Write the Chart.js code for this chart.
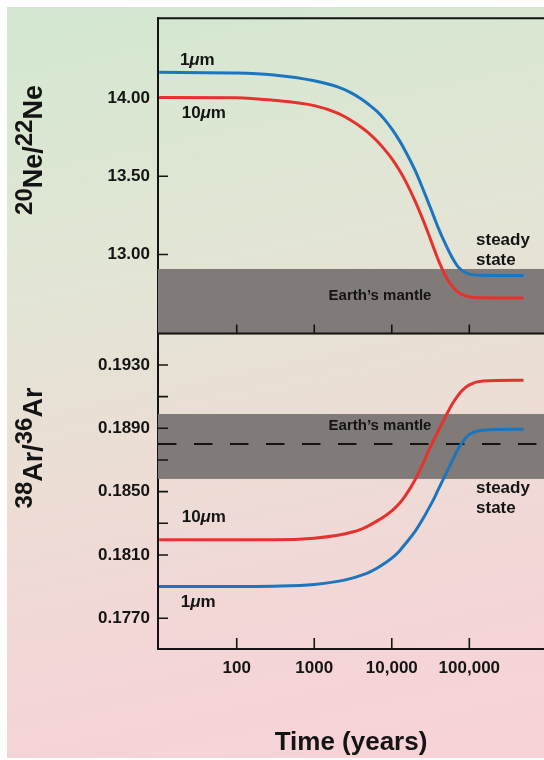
<!DOCTYPE html>
<html>
<head>
<meta charset="utf-8">
<script src="https://cdn.jsdelivr.net/npm/chart.js@4.4.1/dist/chart.umd.min.js"></script>
<style>
  html, body { margin: 0; padding: 0; background: #ffffff; }
  #wrap { position: relative; width: 544px; height: 760px; overflow: hidden; }
  #bg {
    position: absolute; left: 7px; top: 7px; right: 0; bottom: 2px;
    background: linear-gradient(168deg, #d3e8d0 0%, #e2e5d5 33%, #eddcd5 60%, #f4d5d7 82%, #f7d2d7 100%);
  }
  canvas { position: absolute; left: 0; top: 0; }
</style>
</head>
<body>
<div id="wrap">
  <div id="bg"></div>
  <canvas id="chart" width="544" height="760"></canvas>
</div>
<script>
// Time axis (years) shared by both panels
const years = [10, 100, 300, 1000, 2000, 3000, 4000, 5000, 6500, 8000, 10000, 12500, 15000, 20000, 25000, 30000, 35000, 40000, 50000, 60000, 70000, 80000, 100000, 150000, 500000];

// 20Ne/22Ne ratio for 1 um and 10 um grains
const ne1um  = [14.164, 14.160, 14.147, 14.110, 14.071, 14.033, 13.995, 13.960, 13.913, 13.865, 13.802, 13.729, 13.660, 13.537, 13.423, 13.325, 13.240, 13.167, 13.059, 12.980, 12.927, 12.898, 12.874, 12.867, 12.865];
const ne10um = [14.003, 14.002, 13.985, 13.951, 13.903, 13.856, 13.815, 13.777, 13.723, 13.673, 13.613, 13.540, 13.470, 13.341, 13.227, 13.126, 13.037, 12.962, 12.857, 12.797, 12.762, 12.745, 12.730, 12.723, 12.721];

// 38Ar/36Ar ratio for 1 um and 10 um grains
const ar1um  = [0.17900, 0.17900, 0.17903, 0.17914, 0.17933, 0.17952, 0.17971, 0.17989, 0.18018, 0.18046, 0.18080, 0.18124, 0.18171, 0.18249, 0.18325, 0.18394, 0.18456, 0.18516, 0.18613, 0.18694, 0.18760, 0.18807, 0.18861, 0.18888, 0.18894];
const ar10um = [0.18196, 0.18196, 0.18196, 0.18206, 0.18224, 0.18243, 0.18262, 0.18284, 0.18315, 0.18343, 0.18378, 0.18425, 0.18475, 0.18575, 0.18672, 0.18760, 0.18829, 0.18886, 0.18980, 0.19052, 0.19102, 0.19136, 0.19174, 0.19198, 0.19203];

// Earth's mantle ranges
const neMantleBand = [12.49, 12.907];
const arMantleBand = [0.1858, 0.1899];
const arMantleMean = 0.1880;

// Tick values and labels
const xTickValues = [100, 1000, 10000, 100000];
const xTickLabels = ['100', '1000', '10,000', '100,000'];
const neTickValues = [12.5, 13.0, 13.5, 14.0, 14.5];
const neTickLabels = ['', '13.00', '13.50', '14.00', ''];
const arTickValues = [0.175, 0.177, 0.179, 0.181, 0.183, 0.185, 0.187, 0.189, 0.191, 0.193, 0.195];
const arTickLabels = ['', '0.1770', '', '0.1810', '', '0.1850', '', '0.1890', '', '0.1930', ''];

const FONT = '"Liberation Sans", Arial, Helvetica, sans-serif';
const INK = '#141414';
const RED = '#e5322e';
const BLUE = '#1c75bf';
const BAND = '#807b78';

function bold(size) { return 'bold ' + size + 'px ' + FONT; }
function boldItalic(size) { return 'italic bold ' + size + 'px ' + FONT; }

function micron(num) {
  return [{ t: num, font: bold(17) }, { t: '\u03bc', font: boldItalic(17) }, { t: 'm', font: bold(17) }];
}

// Text notes placed in data coordinates of each panel
const notes = [
  { axis: 'yNe', x: 18.5, y: 14.239, runs: micron('1'), align: 'left' },
  { axis: 'yNe', x: 19.5, y: 13.905, runs: micron('10'), align: 'left' },
  { axis: 'yNe', x: 122000, y: 13.093, runs: [{ t: 'steady', font: bold(17) }], align: 'left' },
  { axis: 'yNe', x: 122000, y: 12.962, runs: [{ t: 'state', font: bold(17) }], align: 'left' },
  { axis: 'yNe', x: 7050, y: 12.738, runs: [{ t: 'Earth\u2019s mantle', font: bold(15) }], align: 'center' },
  { axis: 'yAr', x: 7050, y: 0.18915, runs: [{ t: 'Earth\u2019s mantle', font: bold(15) }], align: 'center' },
  { axis: 'yAr', x: 122000, y: 0.18524, runs: [{ t: 'steady', font: bold(17) }], align: 'left' },
  { axis: 'yAr', x: 122000, y: 0.18395, runs: [{ t: 'state', font: bold(17) }], align: 'left' },
  { axis: 'yAr', x: 19.5, y: 0.18336, runs: micron('10'), align: 'left' },
  { axis: 'yAr', x: 19.0, y: 0.17803, runs: micron('1'), align: 'left' }
];

function drawRuns(ctx, runs, x, y, align) {
  let total = 0;
  runs.forEach(r => { ctx.font = r.font; r.w = ctx.measureText(r.t).width; total += r.w; });
  let cx = align === 'center' ? x - total / 2 : x;
  runs.forEach(r => { ctx.font = r.font; ctx.fillText(r.t, cx, y + (r.dy || 0)); cx += r.w; });
}

function isotopeTitle(mass1, sym, mass2) {
  const sup = bold(24), main = bold(27);
  return [
    { t: mass1, font: sup, dy: -10 }, { t: sym, font: main },
    { t: '/', font: main },
    { t: mass2, font: sup, dy: -10 }, { t: sym, font: main }
  ];
}

const panelDecor = {
  id: 'panelDecor',
  beforeDatasetsDraw(chart) {
    const { ctx, scales } = chart;
    const x = scales.x, yNe = scales.yNe, yAr = scales.yAr;
    const left = x.left, right = x.right;
    ctx.save();

    // Earth's mantle bands
    ctx.fillStyle = BAND;
    let t = yNe.getPixelForValue(neMantleBand[1]);
    let b = yNe.getPixelForValue(neMantleBand[0]);
    ctx.fillRect(left, t, right - left, b - t);
    t = yAr.getPixelForValue(arMantleBand[1]);
    b = yAr.getPixelForValue(arMantleBand[0]);
    ctx.fillRect(left, t, right - left, b - t);

    // mantle mean value (dashed)
    ctx.strokeStyle = INK;
    ctx.lineWidth = 2;
    ctx.setLineDash([18.5, 17.5]);
    const ym = yAr.getPixelForValue(arMantleMean);
    ctx.beginPath();
    ctx.moveTo(left, ym);
    ctx.lineTo(right, ym);
    ctx.stroke();
    ctx.setLineDash([]);

    // inward tick marks (the end values sit on the frame lines)
    const inner = arr => arr.slice(1, -1);
    ctx.lineWidth = 1.6;
    ctx.beginPath();
    inner(neTickValues).forEach(v => { const py = yNe.getPixelForValue(v); ctx.moveTo(left, py); ctx.lineTo(left + 10, py); });
    inner(arTickValues).forEach(v => { const py = yAr.getPixelForValue(v); ctx.moveTo(left, py); ctx.lineTo(left + 10, py); });
    xTickValues.forEach(v => {
      const px = x.getPixelForValue(v);
      ctx.moveTo(px, yAr.bottom); ctx.lineTo(px, yAr.bottom - 11);
      ctx.moveTo(px, yNe.bottom); ctx.lineTo(px, yNe.bottom - 9);
    });
    ctx.stroke();
    ctx.restore();
  },
  afterDatasetsDraw(chart) {
    const { ctx, scales } = chart;
    const x = scales.x, yNe = scales.yNe;
    ctx.save();

    // panel frame lines
    ctx.strokeStyle = INK;
    ctx.lineWidth = 2;
    ctx.beginPath();
    ctx.moveTo(x.left - 1, yNe.top);
    ctx.lineTo(x.right, yNe.top);
    ctx.moveTo(x.left - 1, yNe.bottom);
    ctx.lineTo(x.right, yNe.bottom);
    ctx.stroke();

    // notes
    ctx.fillStyle = INK;
    ctx.textBaseline = 'middle';
    notes.forEach(n => {
      const s = scales[n.axis];
      drawRuns(ctx, n.runs, x.getPixelForValue(n.x), s.getPixelForValue(n.y), n.align);
    });

    // rotated axis titles with mass-number superscripts
    ctx.textBaseline = 'alphabetic';
    [[150, isotopeTitle('20', 'Ne', '22')], [448, isotopeTitle('38', 'Ar', '36')]].forEach(([cy, runs]) => {
      ctx.save();
      ctx.translate(42, cy);
      ctx.rotate(-Math.PI / 2);
      drawRuns(ctx, runs, 0, 0, 'center');
      ctx.restore();
    });
    ctx.restore();
  }
};

const lineStyle = { pointRadius: 0, borderWidth: 3, cubicInterpolationMode: 'monotone', fill: false };
const toPoints = vals => years.map((yr, i) => ({ x: yr, y: vals[i] }));

const tickFont = { family: FONT, size: 17, weight: 'bold' };

new Chart(document.getElementById('chart'), {
  type: 'line',
  data: {
    datasets: [
      Object.assign({ label: '20Ne/22Ne 10 \u03bcm', data: toPoints(ne10um), yAxisID: 'yNe', borderColor: RED }, lineStyle),
      Object.assign({ label: '20Ne/22Ne 1 \u03bcm', data: toPoints(ne1um), yAxisID: 'yNe', borderColor: BLUE }, lineStyle),
      Object.assign({ label: '38Ar/36Ar 10 \u03bcm', data: toPoints(ar10um), yAxisID: 'yAr', borderColor: RED }, lineStyle),
      Object.assign({ label: '38Ar/36Ar 1 \u03bcm', data: toPoints(ar1um), yAxisID: 'yAr', borderColor: BLUE }, lineStyle)
    ]
  },
  options: {
    responsive: false,
    animation: false,
    devicePixelRatio: 1,
    layout: { padding: { top: 12, left: 0, right: 0, bottom: 0 }, autoPadding: false },
    plugins: { legend: { display: false }, tooltip: { enabled: false } },
    scales: {
      x: {
        type: 'logarithmic',
        position: 'bottom',
        min: 9.65,
        max: 919000,
        afterBuildTicks: s => { s.ticks = xTickValues.map(v => ({ value: v })); },
        afterFit: s => { s.height = 111; },
        ticks: { autoSkip: false, maxRotation: 0, padding: 9, color: INK, font: tickFont,
                 callback: (v, i) => xTickLabels[i] },
        grid: { drawOnChartArea: false, drawTicks: false },
        border: { color: INK, width: 2 },
        title: { display: true, text: 'Time (years)', color: INK,
                 font: { family: FONT, size: 26, weight: 'bold' }, padding: { top: 0, bottom: 2 } }
      },
      yAr: {
        type: 'linear',
        position: 'left',
        stack: 'panels',
        stackWeight: 1,
        weight: 0,
        min: 0.17506,
        max: 0.19498,
        afterBuildTicks: s => { s.ticks = arTickValues.map(v => ({ value: v })); },
        afterFit: s => { s.width = 158; },
        ticks: { autoSkip: false, padding: 8, color: INK, font: tickFont,
                 callback: (v, i) => arTickLabels[i] },
        grid: { drawOnChartArea: false, drawTicks: false },
        border: { color: INK, width: 2 }
      },
      yNe: {
        type: 'linear',
        position: 'left',
        stack: 'panels',
        stackWeight: 1,
        weight: 1,
        min: 12.494,
        max: 14.51,
        afterBuildTicks: s => { s.ticks = neTickValues.map(v => ({ value: v })); },
        afterFit: s => { s.width = 158; },
        ticks: { autoSkip: false, padding: 8, color: INK, font: tickFont,
                 callback: (v, i) => neTickLabels[i] },
        grid: { drawOnChartArea: false, drawTicks: false },
        border: { color: INK, width: 2 }
      }
    }
  },
  plugins: [panelDecor]
});
</script>
</body>
</html>
